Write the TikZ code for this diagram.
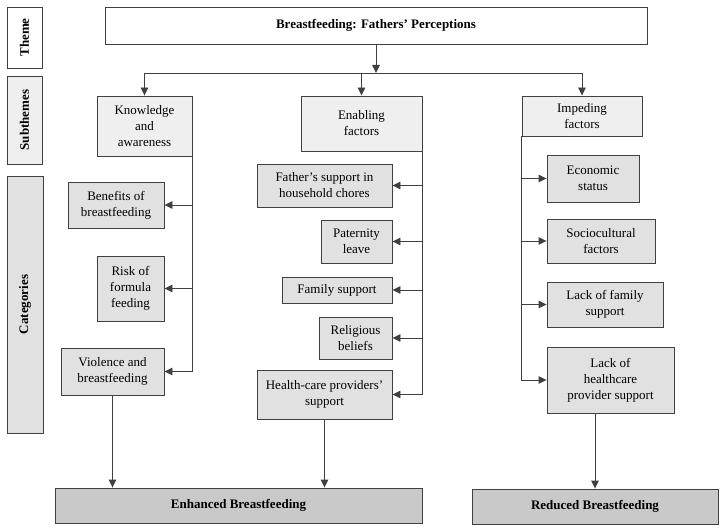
\documentclass[tikz,border=0pt]{standalone}
\usepackage{fontspec}
\setmainfont{Liberation Serif}
\usepackage{tikz}
\usetikzlibrary{arrows.meta}

\definecolor{subfill}{HTML}{EFEFEF}
\definecolor{catfill}{HTML}{E1E1E1}
\definecolor{resfill}{HTML}{C9C9C9}
\definecolor{linegray}{HTML}{404040}

\begin{document}
\begin{tikzpicture}[x=1pt,y=-1pt,
  every node/.style={draw=linegray,line width=0.9pt,rectangle,inner sep=0pt,align=center,
    font=\fontsize{13}{16}\selectfont},
  sub/.style={fill=subfill},
  cat/.style={fill=catfill},
  res/.style={fill=resfill,font=\fontsize{13}{16}\selectfont\bfseries},
  side/.style={rotate=90,font=\fontsize{13}{16}\selectfont\bfseries},
  arr/.style={draw=linegray,line width=0.9pt,-{Triangle[length=8pt,width=7.5pt]}}]
  \useasboundingbox (0,0) rectangle (725,532);

  % left labels
  \node (thm) at (24.5,37.5)[side,fill=white,minimum width=61,minimum height=35]{Theme};
  \node (sbt) at (24.5,120)[side,fill=subfill,minimum width=88,minimum height=35]{Subthemes};
  \node (cts) at (25,304.5)[side,fill=catfill,minimum width=257,minimum height=36]{Categories};

  % theme
  \node (title) at (376,25.5)[fill=white,minimum width=542,minimum height=37,font=\fontsize{13}{16}\selectfont\bfseries]{Breastfeeding: Fathers’ Perceptions};

  % subthemes
  \node (kno) at (144.5,126)[sub,minimum width=95,minimum height=60]{Knowledge\\and\\awareness};
  \node (ena) at (361.5,123.5)[sub,minimum width=121,minimum height=55]{Enabling\\factors};
  \node (imp) at (582,116)[sub,minimum width=120,minimum height=40]{Impeding\\factors};

  % categories
  \node (ben) at (116,205)[cat,minimum width=96,minimum height=46]{Benefits of\\breastfeeding};
  \node (rsk) at (130.5,288.5)[cat,minimum width=67,minimum height=65]{Risk of\\formula\\feeding};
  \node (vio) at (112.5,371.5)[cat,minimum width=103,minimum height=47]{Violence and\\breastfeeding};

  \node (fat) at (324.5,185.5)[cat,minimum width=135,minimum height=43]{Father’s support in\\household chores};
  \node (pat) at (356.5,241.5)[cat,minimum width=71,minimum height=43]{Paternity\\leave};
  \node (fam) at (337,290)[cat,minimum width=110,minimum height=26]{Family support};
  \node (rel) at (355.5,338)[cat,minimum width=73,minimum height=42]{Religious\\beliefs};
  \node (hcp) at (324.5,394.5)[cat,minimum width=135,minimum height=49]{Health-care providers’\\support};

  \node (eco) at (593,178.5)[cat,minimum width=92,minimum height=47]{Economic\\status};
  \node (soc) at (601,241)[cat,minimum width=108,minimum height=44]{Sociocultural\\factors};
  \node (lfs) at (605,304.5)[cat,minimum width=116,minimum height=45]{Lack of family\\support};
  \node (lhc) at (610.5,380)[cat,minimum width=127,minimum height=66]{Lack of\\healthcare\\provider support};

  % outcomes
  \node (enh) at (238.5,505.5)[res,minimum width=367,minimum height=35]{Enhanced Breastfeeding};
  \node (red) at (595,506.5)[res,minimum width=246,minimum height=35]{Reduced Breastfeeding};

  \coordinate (hub) at (376,73);

  \draw[arr](title.south)--(hub);
  \draw[draw=linegray,line width=0.9pt](kno.north |- hub)--(imp.north |- hub);
  \draw[arr](kno.north |- hub)--(kno.north);
  \draw[arr](ena.north |- hub)--(ena.north);
  \draw[arr](imp.north |- hub)--(imp.north);

  \draw[arr](kno.south east)|-(ben.east);
  \draw[arr](kno.south east)|-(rsk.east);
  \draw[arr](kno.south east)|-(vio.east);

  \draw[arr](ena.south east)|-(fat.east);
  \draw[arr](ena.south east)|-(pat.east);
  \draw[arr](ena.south east)|-(fam.east);
  \draw[arr](ena.south east)|-(rel.east);
  \draw[arr](ena.south east)|-(hcp.east);

  \draw[arr](imp.south west)|-(eco.west);
  \draw[arr](imp.south west)|-(soc.west);
  \draw[arr](imp.south west)|-(lfs.west);
  \draw[arr](imp.south west)|-(lhc.west);

  \draw[arr](vio.south)--(vio.south |- enh.north);
  \draw[arr](hcp.south)--(hcp.south |- enh.north);
  \draw[arr](red.north |- lhc.south)--(red.north);
\end{tikzpicture}
\end{document}
